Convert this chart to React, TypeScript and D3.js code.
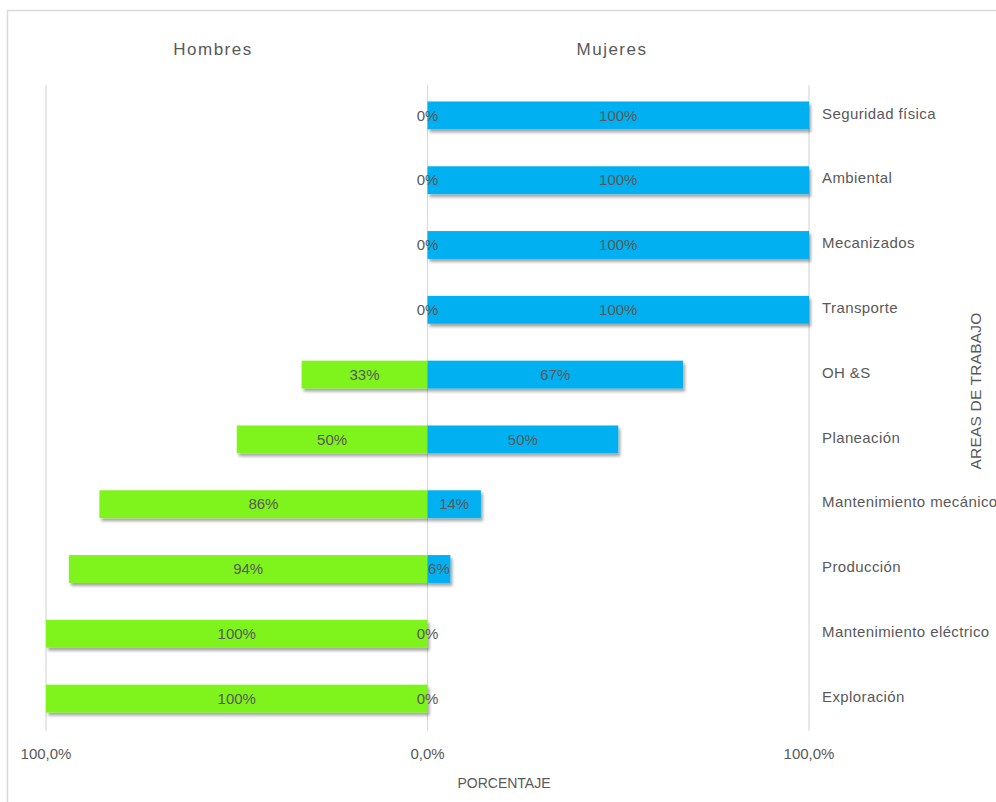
import React from "react";
import * as d3 from "d3";

// Share of men and women per work area (percent)
const areas = [
  "Seguridad física",
  "Ambiental",
  "Mecanizados",
  "Transporte",
  "OH &S",
  "Planeación",
  "Mantenimiento mecánico",
  "Producción",
  "Mantenimiento eléctrico",
  "Exploración",
];
const hombres = [0, 0, 0, 0, 33, 50, 86, 94, 100, 100];
const mujeres = [100, 100, 100, 100, 67, 50, 14, 6, 0, 0];
const tickValues = [-100, 0, 100];
const tickLabels = ["100,0%", "0,0%", "100,0%"];

const W = 996;
const H = 802;
const FONT = "'Liberation Sans', Arial, sans-serif";
const TEXT = "#595959";
const GREEN = "#7FF41F";
const BLUE = "#00B0F0";
const GRID = "#d9d9d9";

export default function App() {
  const x = d3.scaleLinear().domain([-100, 100]).range([46, 809]);
  const y = d3
    .scaleBand<string>()
    .domain(areas)
    .range([83, 731])
    .paddingInner(0.57)
    .paddingOuter(0.285);
  const bw = y.bandwidth();
  const gridTop = 85;
  const gridBottom = 731;

  return (
    <svg
      width={W}
      height={H}
      style={{ position: "absolute", left: 0, top: 0, background: "#fff" }}
      fontFamily={FONT}
    >
      <defs>
        <filter id="barShadow" x="-5%" y="-30%" width="115%" height="190%">
          <feDropShadow dx="2" dy="3" stdDeviation="1.8" floodColor="#000" floodOpacity="0.35" />
        </filter>
      </defs>
      <rect x={7.5} y={10.5} width={W + 20} height={H + 20} fill="#fff" stroke={GRID} strokeWidth={1.5} />

      {/* vertical gridlines */}
      {tickValues.map((t) => (
        <line key={t} x1={x(t)} x2={x(t)} y1={gridTop} y2={gridBottom} stroke={GRID} strokeWidth={1.2} />
      ))}

      {/* bars */}
      {areas.map((a, i) => {
        const y0 = y(a)!;
        return (
          <g key={a} filter="url(#barShadow)">
            {hombres[i] > 0 && (
              <rect x={x(-hombres[i])} y={y0} width={x(0) - x(-hombres[i])} height={bw} fill={GREEN} />
            )}
            {mujeres[i] > 0 && (
              <rect x={x(0)} y={y0} width={x(mujeres[i]) - x(0)} height={bw} fill={BLUE} />
            )}
          </g>
        );
      })}

      {/* value labels */}
      {areas.map((a, i) => {
        const cy = y(a)! + bw / 2;
        const hx = (x(-hombres[i]) + x(0)) / 2;
        const mx = (x(0) + x(mujeres[i])) / 2;
        return (
          <g key={a} fontSize={15} fill={TEXT} textAnchor="middle">
            <text x={hx} y={cy} dy="0.35em">{`${hombres[i]}%`}</text>
            <text x={mx} y={cy} dy="0.35em">{`${mujeres[i]}%`}</text>
          </g>
        );
      })}

      {/* category labels */}
      {areas.map((a) => (
        <text key={a} x={822} y={y(a)! + bw / 2 - 2} dy="0.35em" fontSize={15} letterSpacing={0.4} fill={TEXT}>
          {a}
        </text>
      ))}

      {/* axis tick labels */}
      {tickValues.map((t, i) => (
        <text key={t} x={x(t)} y={759} textAnchor="middle" fontSize={15} fill={TEXT}>
          {tickLabels[i]}
        </text>
      ))}

      {/* titles */}
      <text x={213} y={55} textAnchor="middle" fontSize={17} letterSpacing={1.5} fill={TEXT}>
        Hombres
      </text>
      <text x={612} y={55} textAnchor="middle" fontSize={17} letterSpacing={1.5} fill={TEXT}>
        Mujeres
      </text>
      <text x={504} y={788} textAnchor="middle" fontSize={14} fill={TEXT}>
        PORCENTAJE
      </text>
      <text
        transform="translate(981,391) rotate(-90)"
        textAnchor="middle"
        fontSize={15.5}
        letterSpacing={0.2}
        fill={TEXT}
      >
        AREAS DE TRABAJO
      </text>
    </svg>
  );
}
